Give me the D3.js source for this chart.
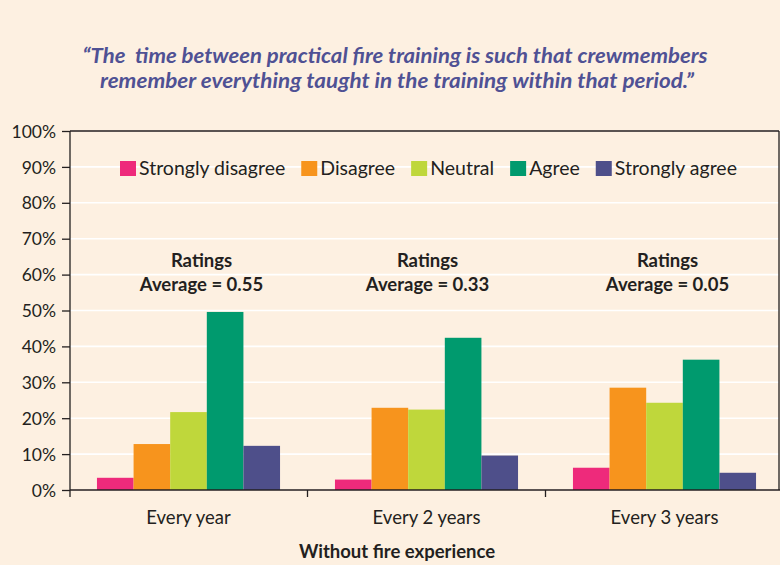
<!DOCTYPE html>
<html><head><meta charset="utf-8">
<script src="https://cdn.jsdelivr.net/npm/d3@7"></script>
<style>
body{margin:0;background:#FDF0E1;}
svg{display:block;font-family:Lato,"Open Sans",sans-serif;}
</style></head>
<body><svg id="c" width="780" height="565"></svg>
<script>
const categories = ["Every year", "Every 2 years", "Every 3 years"];
const seriesNames = ["Strongly disagree", "Disagree", "Neutral", "Agree", "Strongly agree"];
const stronglyDisagree = [3.4, 2.9, 6.2];
const disagree = [12.8, 22.9, 28.5];
const neutral = [21.7, 22.4, 24.3];
const agree = [49.6, 42.4, 36.3];
const stronglyAgree = [12.3, 9.6, 4.8];
const ratingAverages = ["0.55", "0.33", "0.05"];
const yTicks = [0, 10, 20, 30, 40, 50, 60, 70, 80, 90, 100];
const titleLines = ["\u201CThe  time between practical fire training is such that crewmembers",
                    "remember everything taught in the training within that period.\u201D"];
const xTitle = "Without fire experience";

const colors = ["#EE2A7B", "#F7941D", "#BFD73B", "#009A6E", "#4E4F8A"];
const seriesValues = [stronglyDisagree, disagree, neutral, agree, stronglyAgree];

const svg = d3.select("#c");
const W = 780, H = 565;
svg.append("rect").attr("width", W).attr("height", H).attr("fill", "#FDF0E1");

const pL = 70, pR = 779, pT = 131, pB = 490;
const x0 = d3.scaleBand().domain(categories).range([69.5, 783.5]).paddingInner(0).paddingOuter(0);
const x1 = d3.scaleBand().domain(seriesNames).range([0, x0.bandwidth()]).paddingInner(0).paddingOuter(0.75);
const y = d3.scaleLinear().domain([0, 100]).range([pB, pT]);

// title
svg.append("g").selectAll("text").data(titleLines).join("text")
  .attr("x", (d,i)=> i===0 ? 395 : 397).attr("y", (d,i)=> 63 + i*25)
  .attr("text-anchor", "middle")
  .attr("font-size", 20).attr("font-weight", "bold").attr("font-style", "italic")
  .attr("fill", "#4F5194").style("white-space", "pre")
  .attr("textLength", (d,i)=> i===0 ? 625 : 594).attr("lengthAdjust", "spacingAndGlyphs")
  .text(d=>d);

// gridlines
svg.append("g").selectAll("line").data(yTicks.filter(t=>t>0 && t<100)).join("line")
  .attr("x1", pL).attr("x2", pR).attr("y1", d=>y(d)).attr("y2", d=>y(d))
  .attr("stroke", "#fff").attr("stroke-width", 1.6);

// bars
const groups = svg.append("g").selectAll("g").data(categories).join("g")
  .attr("transform", d=>`translate(${x0(d)},0)`);
groups.selectAll("rect").data((c,ci)=> seriesNames.map((s,si)=>({s, si, v: seriesValues[si][ci]})))
  .join("rect")
  .attr("x", d=>x1(d.s)).attr("width", x1.bandwidth())
  .attr("y", d=>y(d.v)).attr("height", d=>y(0)-y(d.v))
  .attr("fill", d=>colors[d.si]);

// frame
svg.append("line").attr("x1", pL).attr("x2", pR).attr("y1", pT).attr("y2", pT).attr("stroke", "#231F20").attr("stroke-width", 1.3);
svg.append("line").attr("x1", pR).attr("x2", pR).attr("y1", pT).attr("y2", pB).attr("stroke", "#231F20").attr("stroke-width", 1.3);

// y axis
const yAxis = svg.append("g").attr("transform", `translate(${pL},0)`)
  .call(d3.axisLeft(y).tickValues(yTicks).tickFormat(d=>d+"%").tickSize(8).tickPadding(6));
yAxis.select(".domain").attr("d", `M0,${pT}V${pB+7}`).attr("stroke", "#231F20").attr("stroke-width", 1.3);
yAxis.selectAll(".tick line").attr("stroke", "#231F20").attr("stroke-width", 1.3);
yAxis.selectAll(".tick text").attr("font-size", 17.5).attr("fill", "#231F20").attr("font-family", "Lato").attr("dy", "0.35em");

// x axis
const xAxis = svg.append("g").attr("transform", `translate(0,${pB})`)
  .call(d3.axisBottom(x0).tickSize(0).tickPadding(21));
xAxis.select(".domain").attr("d", `M${pL},0H${W}`).attr("stroke", "#231F20").attr("stroke-width", 1.3);
xAxis.selectAll(".tick text").attr("font-size", 18.5).attr("fill", "#231F20").attr("font-family", "Lato").attr("dy", "0.71em");
// boundary ticks between categories
svg.append("g").selectAll("line").data(categories.slice(1)).join("line")
  .attr("x1", d=>x0(d)).attr("x2", d=>x0(d)).attr("y1", pB).attr("y2", pB+7)
  .attr("stroke", "#231F20").attr("stroke-width", 1.3);

svg.append("text").attr("x", 397).attr("y", 558).attr("text-anchor", "middle")
  .attr("font-size", 18.5).attr("font-weight", "bold").attr("fill", "#231F20").text(xTitle);

// annotations
const annDx = [13, 1, 3];
const ann = svg.append("g").selectAll("g").data(categories).join("g")
  .attr("transform", (d,i)=>`translate(${x0(d)+x0.bandwidth()/2+annDx[i]},0)`);
ann.append("text").attr("y", 267).attr("text-anchor", "middle").attr("font-size", 18.5).attr("font-weight", "bold").attr("fill", "#231F20").text("Ratings");
ann.append("text").attr("y", 291).attr("text-anchor", "middle").attr("font-size", 18.5).attr("font-weight", "bold").attr("fill", "#231F20").text((d,i)=>"Average = " + ratingAverages[i]);

// legend
const legend = svg.append("g");
let lx = 120;
seriesNames.forEach((s,i)=>{
  legend.append("rect").attr("x", lx).attr("y", 161).attr("width", 16).attr("height", 15).attr("fill", colors[i]);
  const t = legend.append("text").attr("x", lx+19).attr("y", 175).attr("font-size", 19.5).attr("fill", "#231F20").text(s);
  lx += 19 + t.node().getComputedTextLength() + 16;
});
</script></body></html>
